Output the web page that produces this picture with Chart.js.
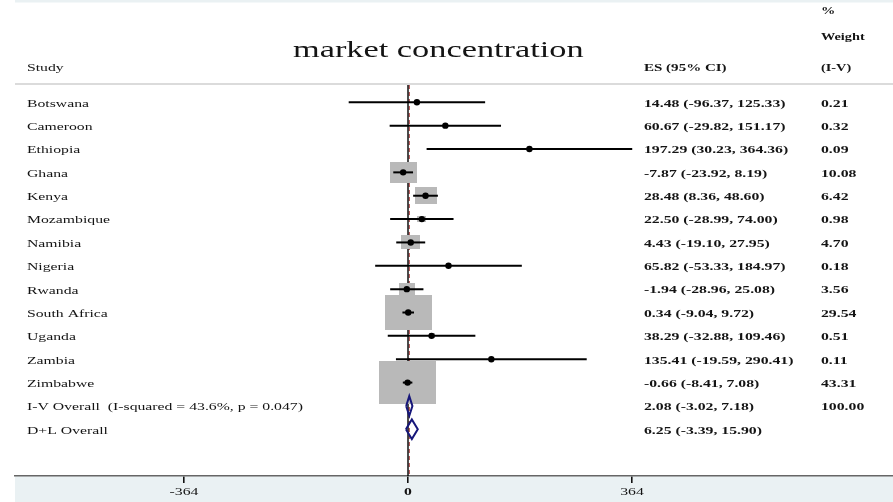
<!DOCTYPE html>
<html>
<head>
<meta charset="utf-8">
<script src="https://cdn.jsdelivr.net/npm/chart.js@4/dist/chart.umd.min.js"></script>
<style>
html,body{margin:0;padding:0;background:#fff;}
canvas{display:block;}
</style>
</head>
<body>
<canvas id="c" width="893" height="502"></canvas>
<script>
// ---- data ----
const studies = ['Botswana','Cameroon','Ethiopia','Ghana','Kenya','Mozambique','Namibia','Nigeria','Rwanda','South Africa','Uganda','Zambia','Zimbabwe'];
const es = [14.48, 60.67, 197.29, -7.87, 28.48, 22.50, 4.43, 65.82, -1.94, 0.34, 38.29, 135.41, -0.66];
const ciLow = [-96.37, -29.82, 30.23, -23.92, 8.36, -28.99, -19.10, -53.33, -28.96, -9.04, -32.88, -19.59, -8.41];
const ciHigh = [125.33, 151.17, 364.36, 8.19, 48.60, 74.00, 27.95, 184.97, 25.08, 9.72, 109.46, 290.41, 7.08];
const weights = [0.21, 0.32, 0.09, 10.08, 6.42, 0.98, 4.70, 0.18, 3.56, 29.54, 0.51, 0.11, 43.31];
const overallLabels = ['I-V Overall  (I-squared = 43.6%, p = 0.047)', 'D+L Overall'];
const overallEs = [2.08, 6.25];
const overallLow = [-3.02, -3.39];
const overallHigh = [7.18, 15.90];
const overallWeights = ['100.00', ''];
const xTicks = [-364, 0, 364];
const title = 'market concentration';

// ---- helpers ----
const fmt = v => v.toFixed(2);
const SX = 1.43;
function txt(ctx, s, x, y, font, align) {
  ctx.save();
  ctx.font = font;
  ctx.fillStyle = '#141414';
  ctx.textBaseline = 'middle';
  ctx.translate(x, y);
  ctx.scale(SX, 1);
  const w = ctx.measureText(s).width;
  let dx = 0;
  if (align === 'center') dx = -w / 2;
  else if (align === 'right') dx = -w;
  ctx.textAlign = 'left';
  ctx.fillText(s, dx, 0);
  ctx.restore();
}
const boxCache = {};
function boxFor(w) {
  if (boxCache[w]) return boxCache[w];
  const c = document.createElement('canvas');
  c.width = Math.max(1, Math.round(8.66 * Math.sqrt(w)));
  c.height = Math.max(1, Math.round(6.53 * Math.sqrt(w)));
  const g = c.getContext('2d');
  g.fillStyle = '#b9b9b9';
  g.fillRect(0, 0, c.width, c.height);
  boxCache[w] = c;
  return c;
}

const nRows = studies.length;
const datasets = [];
// vertical reference lines
datasets.push({data:[{x:0,y:-0.74},{x:0,y:16}], showLine:true, pointRadius:0, borderColor:'#000', borderWidth:1.4, order:10});
datasets.push({data:[{x:overallEs[0],y:-0.74},{x:overallEs[0],y:16}], showLine:true, pointRadius:0, borderColor:'#b04848', borderWidth:1.2, borderDash:[4,3], order:10});
// weight boxes
datasets.push({data: es.map((v,i)=>({x:v,y:i})), pointStyle: ctx => boxFor(weights[ctx.dataIndex]), pointRadius:5, showLine:false, order:5});
// CI lines
for (let i = 0; i < nRows; i++) {
  datasets.push({data:[{x:ciLow[i],y:i},{x:ciHigh[i],y:i}], showLine:true, pointRadius:0, borderColor:'#000', borderWidth:2, order:2});
}
// point estimates
datasets.push({data: es.map((v,i)=>({x:v,y:i})), pointStyle:'circle', pointRadius:3.2, backgroundColor:'#000', borderWidth:0, showLine:false, order:1});
// overall diamonds
const dh = 0.42;
for (let j = 0; j < overallEs.length; j++) {
  const r = nRows + j;
  datasets.push({data:[{x:overallLow[j],y:r},{x:overallEs[j],y:r-dh},{x:overallHigh[j],y:r},{x:overallEs[j],y:r+dh},{x:overallLow[j],y:r}],
    showLine:true, pointRadius:0, borderColor:'#16167a', borderWidth:2, borderJoinStyle:'miter', fill:false, order:1});
}

const deco = {
  id:'deco',
  beforeDraw(chart) {
    const ctx = chart.ctx, a = chart.chartArea;
    ctx.save();
    ctx.fillStyle = '#eaf1f3';
    ctx.fillRect(a.left, a.bottom, chart.width - a.left, chart.height - a.bottom);
    ctx.fillRect(a.left, 0, chart.width - a.left, 2.5);
    ctx.strokeStyle = '#cfcfcf';
    ctx.lineWidth = 1.5;
    ctx.beginPath(); ctx.moveTo(a.left, 84); ctx.lineTo(chart.width, 84); ctx.stroke();
    ctx.restore();
  },
  afterDraw(chart) {
    const ctx = chart.ctx, y = chart.scales.y, x = chart.scales.x;
    const reg = '11px "Liberation Serif"', bold = 'bold 11px "Liberation Serif"';
    // headers
    txt(ctx, 'Study', 27, 68, reg, 'left');
    txt(ctx, title, 293, 51, '24px "Liberation Serif"', 'left');
    txt(ctx, 'ES (95% CI)', 644, 68, 'bold 10.5px "Liberation Serif"', 'left');
    txt(ctx, '%', 821, 11, 'bold 10px "Liberation Serif"', 'left');
    txt(ctx, 'Weight', 821, 37, 'bold 10px "Liberation Serif"', 'left');
    txt(ctx, '(I-V)', 821, 68, 'bold 10px "Liberation Serif"', 'left');
    for (let i = 0; i < nRows; i++) {
      const py = y.getPixelForValue(i) + 1.5;
      txt(ctx, studies[i], 27, py, reg, 'left');
      txt(ctx, fmt(es[i]) + ' (' + fmt(ciLow[i]) + ', ' + fmt(ciHigh[i]) + ')', 644, py, bold, 'left');
      txt(ctx, fmt(weights[i]), 821, py, bold, 'left');
    }
    for (let j = 0; j < overallEs.length; j++) {
      const py = y.getPixelForValue(nRows + j) + 1.5;
      txt(ctx, overallLabels[j], 27, py, reg, 'left');
      txt(ctx, fmt(overallEs[j]) + ' (' + fmt(overallLow[j]) + ', ' + fmt(overallHigh[j]) + ')', 644, py, bold, 'left');
      if (overallWeights[j]) txt(ctx, overallWeights[j], 821, py, bold, 'left');
    }
    // x tick labels
    xTicks.forEach(v => {
      txt(ctx, String(v), x.getPixelForValue(v), 492, (v === 0 ? 'bold ' : '') + '11px "Liberation Serif"', 'center');
    });
  }
};

new Chart(document.getElementById('c'), {
  type:'scatter',
  data:{datasets},
  options:{
    responsive:false,
    animation:false,
    events:[],
    layout:{autoPadding:false, padding:{left:15,right:0,top:0,bottom:0}},
    plugins:{legend:{display:false}, tooltip:{enabled:false}},
    scales:{
      x:{type:'linear', position:'bottom', min:-638.6, max:788.1,
        afterBuildTicks: s => { s.ticks = xTicks.map(v => ({value:v})); },
        afterFit: s => { s.height = 26; },
        ticks:{display:false},
        grid:{drawOnChartArea:false, drawTicks:true, tickLength:7, color:'#111', lineWidth:1.6},
        border:{display:true, color:'#666', width:1.5}
      },
      y:{type:'linear', display:false, min:-4.38, max:16, reverse:true}
    }
  },
  plugins:[deco]
});
</script>
</body>
</html>
